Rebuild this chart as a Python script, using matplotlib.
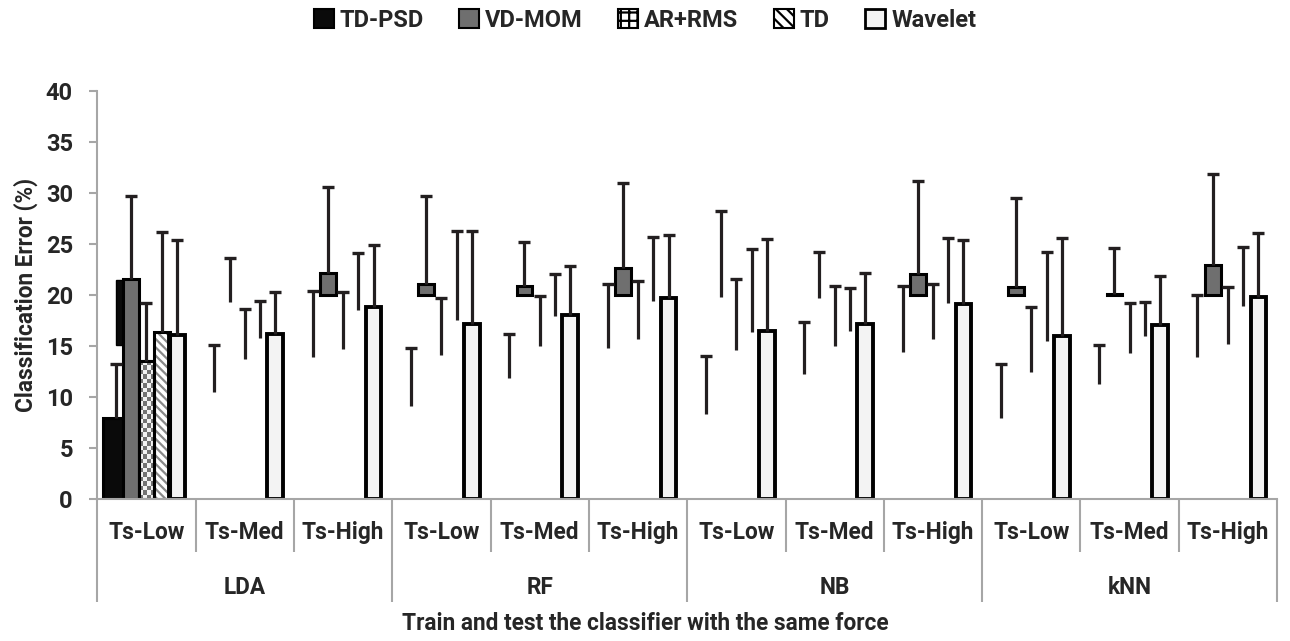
import numpy as np
import matplotlib
matplotlib.use('Agg')
import matplotlib.pyplot as plt
from matplotlib.patches import Patch
from matplotlib.transforms import blended_transform_factory

# ---------------- data ----------------
classifiers = ['LDA', 'RF', 'NB', 'kNN']
forces = ['Ts-Low', 'Ts-Med', 'Ts-High']
series = ['TD-PSD', 'VD-MOM', 'AR+RMS', 'TD', 'Wavelet']

# mean classification error (%) : LDA(L,M,H), RF(L,M,H), NB(L,M,H), kNN(L,M,H)
td_psd = [7.9, 10.5, 13.9, 9.1, 11.9, 14.8, 8.3, 12.2, 14.4, 7.9, 11.3, 13.9]
vd_mom = [21.6, 19.3, 22.1, 21.1, 20.9, 22.6, 19.8, 19.7, 22.0, 20.8, 20.1, 22.9]
ar_rms = [13.5, 13.7, 14.7, 14.1, 15.0, 15.7, 14.6, 15.0, 15.7, 12.4, 14.3, 15.2]
td = [16.4, 15.8, 18.5, 17.5, 17.9, 19.4, 16.4, 16.5, 19.2, 15.5, 16.0, 18.9]
wavelet = [16.1, 16.2, 18.8, 17.1, 18.0, 19.7, 16.5, 17.1, 19.1, 16.0, 17.0, 19.8]

# standard deviations (plus-direction error bars)
td_psd_sd = [5.3, 4.6, 6.5, 5.7, 4.3, 6.3, 5.7, 5.1, 6.5, 5.3, 3.8, 6.1]
vd_mom_sd = [8.1, 4.3, 8.5, 8.6, 4.3, 8.4, 8.4, 4.5, 9.2, 8.7, 4.5, 8.9]
ar_rms_sd = [5.7, 4.9, 5.6, 5.6, 4.9, 5.7, 7.0, 5.9, 5.4, 6.4, 4.9, 5.6]
td_sd = [9.8, 3.6, 5.6, 8.8, 4.1, 6.3, 8.1, 4.2, 6.4, 8.7, 3.3, 5.8]
wavelet_sd = [9.3, 4.1, 6.1, 9.2, 4.8, 6.2, 9.0, 5.0, 6.3, 9.6, 4.8, 6.3]

# rendering glitch of the original chart: VD-MOM only visible above this level,
# and a stray TD-PSD block in the first group
vd_mom_floor = 20.0
td_psd_stray = (15.1, 21.5)

values = [td_psd, vd_mom, ar_rms, td, wavelet]
sds = [td_psd_sd, vd_mom_sd, ar_rms_sd, td_sd, wavelet_sd]

# ---------------- style ----------------
FONT = ['Roboto', 'DejaVu Sans']
plt.rcParams['font.family'] = FONT
plt.rcParams['font.weight'] = 'bold'
plt.rcParams['hatch.linewidth'] = 1.6
TXT = '#262626'
AXC = '#a6a6a6'
ERRC = '#231f20'
FS = 17
FS_X = 16.3

fig = plt.figure(figsize=(12.9, 6.41), dpi=100)
ax = fig.add_axes([0.0754, 0.2215, 0.9146, 0.637])

n_cat = len(classifiers) * len(forces)
centers = np.arange(n_cat) + 0.5
step = 0.155
width = 0.16
offsets = (np.arange(len(series)) - 2) * step
EDGE_LW = 2.2


def draw_bar(s, x, bottom, height, w=width):
    if s == 0:
        ax.bar(x, height, w, bottom=bottom, color='#0a0a0a', edgecolor='black', lw=EDGE_LW, zorder=2)
    elif s == 1:
        ax.bar(x, height, w, bottom=bottom, color='#6f6f6f', edgecolor='black', lw=EDGE_LW, zorder=2)
    elif s == 2:
        b = ax.bar(x, height, w, bottom=bottom, color='white', edgecolor='black', lw=EDGE_LW, zorder=2)[0]
        rows = max(1, int(round(height * 10.2 / 4.5)))
        chk = (np.add.outer(np.arange(rows), np.arange(4)) % 2).astype(float)
        im = ax.imshow(chk, extent=(x - w / 2, x + w / 2, bottom, bottom + height),
                       cmap='gray', vmin=-0.9, vmax=1.1, aspect='auto',
                       interpolation='nearest', zorder=2.05)
        im.set_clip_path(b)
        ax.bar(x, height, w, bottom=bottom, color='none', edgecolor='black', lw=EDGE_LW, zorder=2.1)
    elif s == 3:
        ax.bar(x, height, w, bottom=bottom, color='white', edgecolor='#8a8a8a',
               hatch='\\\\\\\\', lw=0, zorder=2)
        ax.bar(x, height, w, bottom=bottom, color='none', edgecolor='black', lw=EDGE_LW, zorder=2.1)
    else:
        ax.bar(x, height, w, bottom=bottom, color='#f3f3f3', edgecolor='black', lw=EDGE_LW + 0.6, zorder=2)


for s in range(len(series)):
    for i in range(n_cat):
        x = centers[i] + offsets[s]
        v = values[s][i]
        if i == 0 or s == 4:
            # first TD-PSD bar is drawn a little wider (bevel shadow in the original)
            if i == 0 and s == 0:
                draw_bar(s, x - 0.02, 0, v, w=width + 0.06)
            else:
                draw_bar(s, x, 0, v)
        elif s == 1 and v > vd_mom_floor:
            draw_bar(s, x, vd_mom_floor, v - vd_mom_floor)

# stray block
ax.bar(centers[0] + offsets[0] + width * 0.3, td_psd_stray[1] - td_psd_stray[0], width * 0.6,
       bottom=td_psd_stray[0], color='#0a0a0a', edgecolor='black', lw=1, zorder=1.9)

# error bars (plus direction only)
for s in range(len(series)):
    xs = centers + offsets[s]
    v = np.array(values[s])
    top = v + np.array(sds[s])
    ax.vlines(xs, v, top, color=ERRC, lw=2.3, zorder=3)
    ax.plot(xs, top, ls='none', marker='_', ms=8.5, mew=2.4, color=ERRC, zorder=3)

# axes
ax.set_xlim(0, n_cat)
ax.set_ylim(0, 40)
ax.set_yticks(np.arange(0, 41, 5))
ax.set_yticklabels([str(t) for t in range(0, 41, 5)], fontsize=FS, color=TXT, fontweight='bold')
for sp in ['top', 'right']:
    ax.spines[sp].set_visible(False)
for sp in ['left', 'bottom']:
    ax.spines[sp].set_color(AXC)
    ax.spines[sp].set_linewidth(1.5)
ax.tick_params(axis='y', direction='out', length=5.5, width=1.5, color=AXC, pad=12)
ax.set_xticks(np.arange(0, n_cat + 1, 3))
ax.set_xticks(np.arange(0, n_cat + 1), minor=True)
ax.set_xticklabels([])
ax.tick_params(axis='x', which='major', direction='out', length=74, width=1.5, color=AXC)
ax.tick_params(axis='x', which='minor', direction='out', length=38, width=1.5, color=AXC)

trans = blended_transform_factory(ax.transData, ax.transAxes)
for i in range(n_cat):
    ax.text(centers[i], -0.083, forces[i % 3], transform=trans, ha='center', va='center',
            fontsize=FS_X, fontweight='bold', color=TXT)
for g, name in enumerate(classifiers):
    ax.text(g * 3 + 1.5, -0.216, name, transform=trans, ha='center', va='center',
            fontsize=FS_X, fontweight='bold', color=TXT)

fig.text(0.5, 0.028, 'Train and test the classifier with the same force', ha='center', va='center',
         fontsize=FS_X, fontweight='bold', color=TXT)
fig.text(0.02, 1 - 295 / 641, 'Classification Error (%)', rotation=90, ha='center', va='center',
         fontsize=FS_X, fontweight='bold', color=TXT)

# legend
handles = [
    Patch(facecolor='#0a0a0a', edgecolor='black', lw=1.5),
    Patch(facecolor='#6f6f6f', edgecolor='black', lw=1.5),
    Patch(facecolor='white', edgecolor='black', hatch='++', lw=1.5),
    Patch(facecolor='white', edgecolor='black', hatch='\\\\\\', lw=1.5),
    Patch(facecolor='#f3f3f3', edgecolor='black', lw=2),
]
leg = fig.legend(handles, series, loc='center', bbox_to_anchor=(0.5, 0.968), ncol=5,
                 frameon=False, handlelength=0.85, handleheight=0.85, handletextpad=0.25,
                 columnspacing=1.5, prop={'family': FONT, 'weight': 'bold', 'size': FS})
for t in leg.get_texts():
    t.set_color(TXT)

fig.savefig('out.png', dpi=100)
